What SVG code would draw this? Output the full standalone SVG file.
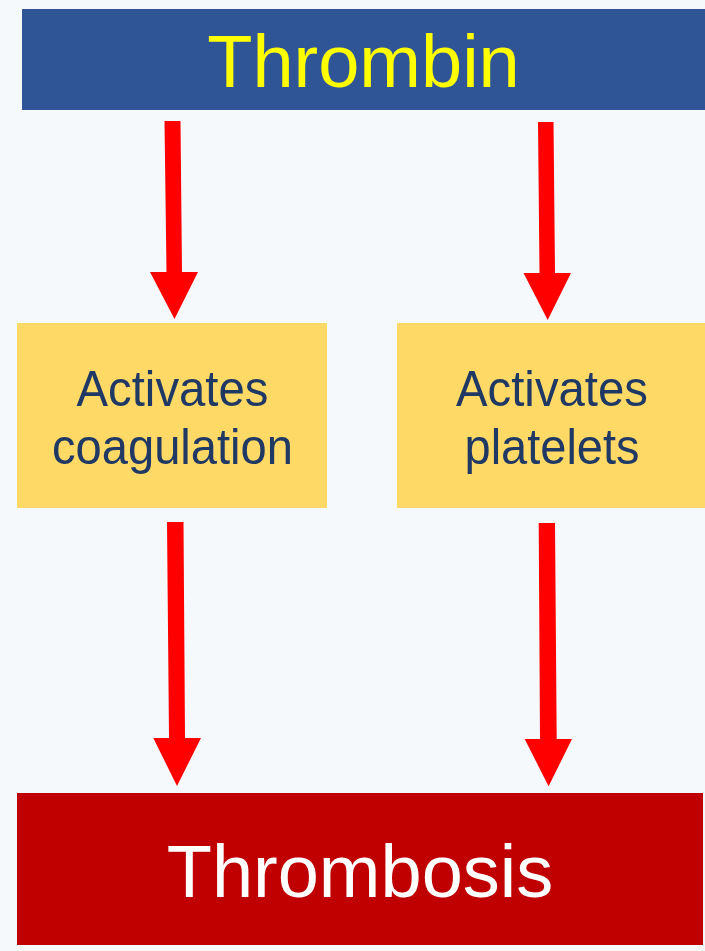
<svg xmlns="http://www.w3.org/2000/svg" width="705" height="951" viewBox="0 0 705 951">
<style>
.t{font-family:"Liberation Sans",Arial,sans-serif;text-anchor:middle}
.big{font-size:74px}
.mid{font-size:50px;fill:#1F3864}
.arr{fill:#FF0000}
</style>
<rect x="0" y="0" width="705" height="951" fill="#F5F9FC"/>
<g id="thrombin">
<rect x="22" y="9" width="683" height="101" fill="#2F5597"/>
<text class="t big" x="363.5" y="87" fill="#FFFF00">Thrombin</text>
</g>
<g id="coagulation">
<rect x="17" y="323" width="310" height="185" fill="#FFD966"/>
<text class="t mid" x="172.5" y="405.5" textLength="192" lengthAdjust="spacingAndGlyphs">Activates</text>
<text class="t mid" x="172.5" y="463.5" textLength="241" lengthAdjust="spacingAndGlyphs">coagulation</text>
</g>
<g id="platelets">
<rect x="397" y="323" width="308" height="185" fill="#FFD966"/>
<text class="t mid" x="552" y="405.5" textLength="192" lengthAdjust="spacingAndGlyphs">Activates</text>
<text class="t mid" x="552" y="463.5" textLength="175" lengthAdjust="spacingAndGlyphs">platelets</text>
</g>
<g id="thrombosis">
<rect x="17" y="793" width="686" height="152" fill="#C00000"/>
<text class="t big" x="360" y="897" fill="#FFFFFF">Thrombosis</text>
</g>
<g id="connectors">
<polygon class="arr" points="164.5,121 180.5,121 182,272 198,272 174.5,319 150,272 166.5,272"/>
<polygon class="arr" points="538,122 553.5,122 555,273 571,273 547.7,320 523.5,273 539.5,273"/>
<polygon class="arr" points="167,522 183.5,522 185,738 201,738 177,786 153.3,738 169,738"/>
<polygon class="arr" points="538.7,523 555,523 556.7,739 572,739 548.6,786.3 524.7,739 540,739"/>
</g>
</svg>
